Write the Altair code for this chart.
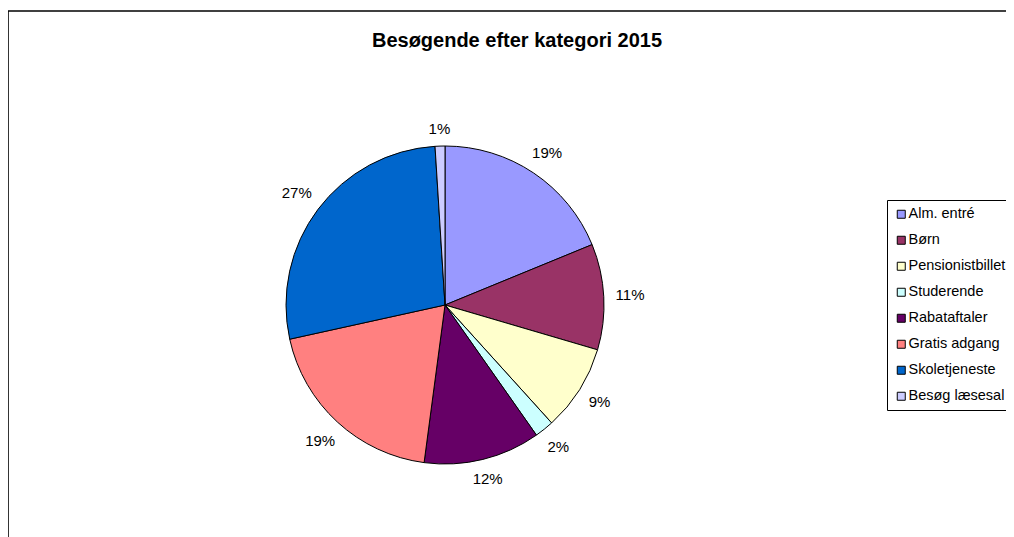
import altair as alt
import pandas as pd

categories = ["Alm. entré", "Børn", "Pensionistbillet", "Studerende",
              "Rabataftaler", "Gratis adgang", "Skoletjeneste", "Besøg læsesal"]
values = [18.8, 10.75, 8.75, 1.95, 11.85, 19.45, 27.45, 1.0]
colors = ["#9999FF", "#993366", "#FFFFCC", "#CCFFFF",
          "#660066", "#FF8080", "#0066CC", "#CCCCFF"]

df = pd.DataFrame({"kategori": categories, "vaerdi": values,
                   "orden": list(range(len(categories)))})

FONT = "Liberation Sans"
W, H = 998, 526
CX, CY, R = 437, 294, 159

pie = alt.Chart(df).mark_arc(outerRadius=R, stroke="black", strokeWidth=1).encode(
    theta=alt.Theta("vaerdi:Q", stack=True),
    order=alt.Order("orden:Q"),
    color=alt.Color(
        "kategori:N",
        scale=alt.Scale(domain=categories, range=colors),
        sort=categories,
        legend=alt.Legend(
            title=None, orient="none", legendX=879, legendY=189,
            symbolType="square", symbolSize=64, symbolStrokeColor="black",
            symbolStrokeWidth=1, symbolOpacity=1,
            labelFont=FONT, labelFontSize=14.5, labelColor="black",
            labelOffset=0, rowPadding=11, padding=7,
            strokeColor="black", fillColor="white", labelLimit=300,
        ),
    ),
    x=alt.value(CX), y=alt.value(CY),
)

labels = alt.Chart(df).transform_joinaggregate(
    total="sum(vaerdi)"
).transform_window(
    kum="sum(vaerdi)", sort=[alt.SortField("orden")], frame=[None, 0]
).transform_calculate(
    tekst="format(datum.vaerdi / datum.total, '.0%')",
    midt="(datum.kum - datum.vaerdi / 2) / datum.total * 2 * PI",
).transform_calculate(
    lr=f"{R} + 11 + (4 * length(datum.tekst) + 3) * abs(sin(datum.midt)) + 6 * abs(cos(datum.midt))"
).mark_text(font=FONT, fontSize=15, color="black").encode(
    text=alt.Text("tekst:N"),
    theta=alt.Theta("midt:Q", scale=None, stack=None),
    radius=alt.Radius("lr:Q", scale=None),
    x=alt.value(CX), y=alt.value(CY),
)

frame_df = pd.DataFrame({"k": [0]})
left_edge = alt.Chart(frame_df).mark_rule(color="black", strokeWidth=1.6).encode(
    x=alt.value(0), y=alt.value(0), y2=alt.value(H + 20)
)
top_edge = alt.Chart(frame_df).mark_rule(color="black", strokeWidth=1.6).encode(
    y=alt.value(0), x=alt.value(0), x2=alt.value(W + 20)
)

chart = alt.layer(pie, labels, left_edge, top_edge).properties(
    width=W, height=H,
    autosize=alt.AutoSizeParams(type="none"),
    padding={"left": 0, "top": 3, "right": 0, "bottom": 0},
    background="white",
    title=alt.TitleParams(
        "Besøgende efter kategori 2015", font=FONT, fontSize=20,
        fontWeight="bold", color="black", anchor="middle",
        baseline="alphabetic", offset=-57, dx=10,
    ),
).resolve_scale(theta="independent", radius="independent").configure_view(
    stroke=None
)

chart.save("out.html", embed_options={"renderer": "svg", "actions": False})
